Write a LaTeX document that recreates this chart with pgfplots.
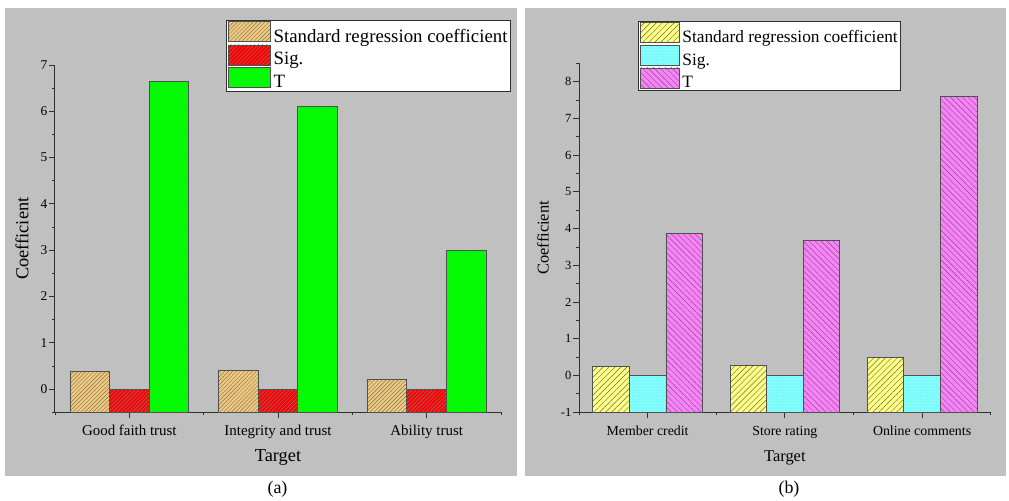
\documentclass[border=0pt]{standalone}
\usepackage{pgfplots}
\pgfplotsset{compat=1.18}
\usepackage{fontspec}
\setmainfont{Liberation Serif}
\usetikzlibrary{patterns.meta}
\definecolor{panel}{HTML}{C0C0C0}
\definecolor{tanc}{HTML}{F2CA78}
\definecolor{edgec}{HTML}{505050}
\definecolor{axc}{HTML}{303030}
\definecolor{yel}{HTML}{FFFF80}
\definecolor{cya}{HTML}{80FFFF}
\definecolor{mag}{HTML}{FF80FF}
\pgfplotsset{
  common/.style={
    scale only axis,
    ybar=0pt,
    bar width=0.266667,
    xmin=-0.5, xmax=2.5,
    axis lines=left,
    axis line style={-, axc, line width=1bp},
    tick align=outside,
    every tick/.style={axc, line width=0.9bp},
    major tick length=6bp,
    minor tick length=3bp,
    xtick={0,1,2},
    minor xtick={-0.5,0.5,1.5,2.5},
    legend cell align=left,
    legend image code/.code={\draw[##1,/tikz/.cd] (0bp,-5.5bp) rectangle (42bp,14.5bp);},
    every axis y label/.style={rotate=90, anchor=center},
  },
}
\begin{document}
\begin{tikzpicture}
\path[use as bounding box] (0bp,0bp) rectangle (1009bp,501bp);
\fill[panel] (5bp,25bp) rectangle (517bp,493bp);
\fill[panel] (525bp,25bp) rectangle (1006bp,493bp);
\begin{axis}[common,
  at={(55bp,88.7bp)}, anchor=south west,
  width=446bp, height=347.3bp,
  ymin=0, ymax=7.5,
  y filter/.expression={y+0.5},
  ytick={0.5,1.5,2.5,3.5,4.5,5.5,6.5,7.5},
  yticklabels={0,1,2,3,4,5,6,7},
  minor ytick={0,1,2,3,4,5,6,7},
  xticklabels={Good faith trust, Integrity and trust, Ability trust},
  xticklabel style={font=\fontsize{15}{17}\selectfont, anchor=base, yshift=-17bp},
  yticklabel style={font=\fontsize{13.5}{15}\selectfont, inner xsep=1.5bp},
  xlabel={Target}, ylabel={Coefficient},
  every axis x label/.style={at={(axis description cs:0.5,-0.1422)}, anchor=base, font=\fontsize{18.4}{20}\selectfont},
  ylabel style={at={(axis description cs:-0.074,0.5)}, font=\fontsize{18.4}{20}\selectfont},
  legend style={at={(0.3834,1.1296)}, anchor=north west, draw=axc, line width=0.8bp, fill=white,
    font=\fontsize{18.9}{20}\selectfont, inner xsep=1.5bp, inner ysep=1bp, row sep=0bp, column sep=2bp,
    nodes={inner sep=1bp}},
]
\addplot[bar shift=-0.266667, fill=tanc, draw=edgec, line width=0.7bp,
  postaction={pattern={Lines[angle=45,distance=2.8bp,line width=0.45bp]}, pattern color=black!55}]
  coordinates {(0,0.38) (1,0.40) (2,0.21)};
\addplot[bar shift=0, fill=red, draw=edgec, line width=0.7bp,
  postaction={pattern={Lines[angle=45,distance=2.8bp,line width=0.45bp]}, pattern color=black!50}]
  coordinates {(0,0.0) (1,0.0) (2,0.0)};
\addplot[bar shift=0.266667, fill=green, draw=edgec, line width=0.7bp,
  postaction={pattern={Dots[distance=3bp,radius=0.35bp]}, pattern color=black!50}]
  coordinates {(0,6.64) (1,6.10) (2,2.99)};
\legend{Standard regression coefficient, Sig., T}
\end{axis}
\begin{axis}[common,
  at={(579bp,88.7bp)}, anchor=south west,
  width=411.7bp, height=349bp,
  ymin=0, ymax=9.5,
  y filter/.expression={y+1},
  ytick={0,1,2,3,4,5,6,7,8,9},
  yticklabels={-1,0,1,2,3,4,5,6,7,8},
  minor ytick={0.5,1.5,2.5,3.5,4.5,5.5,6.5,7.5,8.5,9.5},
  xticklabels={Member credit, Store rating, Online comments},
  xticklabel style={font=\fontsize{13.9}{16}\selectfont, anchor=base, yshift=-17bp},
  yticklabel style={font=\fontsize{12.5}{14}\selectfont, inner xsep=1.5bp},
  xlabel={Target}, ylabel={Coefficient},
  every axis x label/.style={at={(axis description cs:0.5,-0.1415)}, anchor=base, font=\fontsize{16.5}{18}\selectfont},
  ylabel style={at={(axis description cs:-0.0874,0.5)}, font=\fontsize{16.5}{18}\selectfont},
  legend image code/.code={\draw[#1,/tikz/.cd] (0bp,-5.5bp) rectangle (38.5bp,14.5bp);},
  legend style={at={(0.144,1.121)}, anchor=north west, draw=axc, line width=0.8bp, fill=white,
    font=\fontsize{17.4}{19}\selectfont, inner xsep=1.5bp, inner ysep=1bp, row sep=0bp, column sep=2bp,
    nodes={inner sep=1bp}},
]
\addplot[bar shift=-0.266667, fill=yel, draw=edgec, line width=0.7bp,
  postaction={pattern={Lines[angle=45,distance=4.2bp,line width=0.45bp]}, pattern color=black!60}]
  coordinates {(0,0.26) (1,0.28) (2,0.50)};
\addplot[bar shift=0, fill=cya, draw=edgec, line width=0.7bp,
  postaction={pattern={Dots[distance=3bp,radius=0.35bp]}, pattern color=black!40}]
  coordinates {(0,0.0) (1,0.0) (2,0.0)};
\addplot[bar shift=0.266667, fill=mag, draw=edgec, line width=0.7bp,
  postaction={pattern={Lines[angle=-45,distance=4.2bp,line width=0.45bp]}, pattern color=black!60}]
  coordinates {(0,3.88) (1,3.68) (2,7.59)};
\legend{Standard regression coefficient, Sig., T}
\end{axis}
\node[font=\fontsize{18}{20}\selectfont, anchor=base] at (277.5bp,8bp) {(a)};
\node[font=\fontsize{18}{20}\selectfont, anchor=base] at (789bp,8bp) {(b)};
\end{tikzpicture}
\end{document}
